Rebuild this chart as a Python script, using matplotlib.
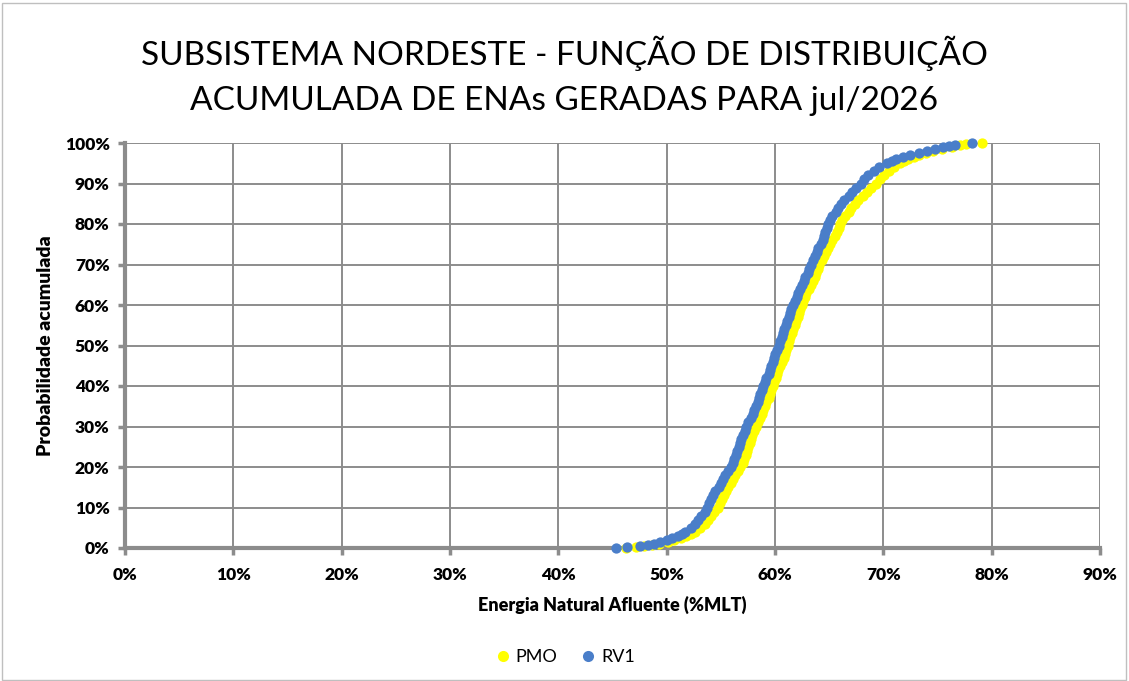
import matplotlib
matplotlib.use("Agg")
import matplotlib.pyplot as plt
from matplotlib.ticker import FuncFormatter
from matplotlib.patches import Rectangle
from matplotlib.lines import Line2D

title = "SUBSISTEMA NORDESTE - FUNÇÃO DE DISTRIBUIÇÃO\nACUMULADA DE ENAs GERADAS PARA jul/2026"
xlabel = "Energia Natural Afluente (%MLT)"
ylabel = "Probabilidade acumulada"
series_names = ["PMO", "RV1"]

# cumulative probability (%) and ENA (%MLT) for each series
pmo_p = [0, 0.25, 0.5, 0.75, 1.0, 1.5, 2.0, 2.5, 3.0, 3.5, 4.0, 5, 6, 7, 8, 9,
         10, 11, 12, 13, 14, 15, 16, 17, 18, 19, 20, 21, 22, 23, 24, 25, 26, 27, 28, 29,
         30, 31, 32, 33, 34, 35, 36, 37, 38, 39, 40, 41, 42, 43, 44, 45, 46, 47, 48, 49,
         50, 51, 52, 53, 54, 55, 56, 57, 58, 59, 60, 61, 62, 63, 64, 65, 66, 67, 68, 69,
         70, 71, 72, 73, 74, 75, 76, 77, 78, 79, 80, 81, 82, 83, 84, 85, 86, 87, 88, 89,
         90, 91, 92, 93, 94, 95, 95.5, 96, 96.5, 97, 97.5, 98, 98.5, 99, 99.4, 99.7, 100]
pmo_x = [46.2, 47.2, 47.9, 48.6, 49.3, 50.1, 50.7, 51.3, 51.8, 52.2, 52.6, 53.1, 53.5, 53.8, 54.1, 54.4,
         54.7, 54.9, 55.1, 55.3, 55.5, 55.7, 55.9, 56.1, 56.3, 56.6, 56.8, 57.0, 57.1, 57.3, 57.4, 57.5, 57.7, 57.8, 57.9, 58.1,
         58.2, 58.4, 58.6, 58.8, 58.9, 59.1, 59.2, 59.4, 59.5, 59.6, 59.8, 59.9, 60.1, 60.2, 60.3, 60.5, 60.6, 60.8, 60.9, 61.0,
         61.2, 61.3, 61.4, 61.6, 61.7, 61.8, 61.9, 62.1, 62.2, 62.3, 62.5, 62.6, 62.8, 62.9, 63.1, 63.3, 63.5, 63.7, 63.8, 64.0,
         64.1, 64.3, 64.5, 64.7, 64.9, 65.1, 65.3, 65.5, 65.7, 65.9, 66.0, 66.2, 66.5, 66.8, 67.0, 67.4, 67.7, 68.1, 68.5, 68.9,
         69.3, 69.7, 70.1, 70.5, 71.0, 71.5, 71.9, 72.3, 72.8, 73.3, 73.9, 74.6, 75.4, 76.3, 77.1, 77.6, 79.1]

rv1_p = [0, 0.25, 0.5, 0.75, 1.0, 1.5, 2.0, 2.5, 3.0, 3.5, 4.0, 5, 6, 7, 8, 9,
         10, 11, 12, 13, 14, 15, 16, 17, 18, 19, 20, 21, 22, 23, 24, 25, 26, 27, 28, 29,
         30, 31, 32, 33, 34, 35, 36, 37, 38, 39, 40, 41, 42, 43, 44, 45, 46, 47, 48, 49,
         50, 51, 52, 53, 54, 55, 56, 57, 58, 59, 60, 61, 62, 63, 64, 65, 66, 67, 68, 69,
         70, 71, 72, 73, 74, 75, 76, 77, 78, 79, 80, 81, 82, 83, 84, 85, 86, 87, 88, 89,
         90, 91, 92, 93, 94, 95, 95.5, 96, 96.5, 97, 97.5, 98, 98.5, 99, 99.3, 99.6, 100]
rv1_x = [45.3, 46.3, 47.5, 48.3, 48.8, 49.4, 50.0, 50.5, 51.0, 51.4, 51.7, 52.2, 52.6, 52.9, 53.2, 53.5,
         53.7, 53.9, 54.1, 54.3, 54.5, 54.8, 55.0, 55.2, 55.4, 55.7, 55.9, 56.1, 56.2, 56.4, 56.5, 56.7, 56.8, 56.9, 57.0, 57.2,
         57.3, 57.5, 57.8, 58.0, 58.1, 58.2, 58.4, 58.5, 58.6, 58.8, 58.9, 59.1, 59.2, 59.4, 59.5, 59.6, 59.8, 59.9, 60.0, 60.2,
         60.4, 60.5, 60.6, 60.7, 60.8, 61.0, 61.1, 61.3, 61.4, 61.5, 61.7, 61.8, 62.0, 62.1, 62.3, 62.5, 62.7, 62.8, 63.0, 63.1,
         63.3, 63.5, 63.7, 63.9, 64.0, 64.2, 64.4, 64.5, 64.6, 64.8, 64.9, 65.1, 65.3, 65.6, 65.8, 66.1, 66.4, 66.8, 67.1, 67.5,
         67.9, 68.2, 68.6, 69.1, 69.6, 70.3, 70.8, 71.2, 71.8, 72.5, 73.3, 74.0, 74.8, 75.5, 76.1, 76.6, 78.2]

x_ticks = [0, 10, 20, 30, 40, 50, 60, 70, 80, 90]
y_ticks = [0, 10, 20, 30, 40, 50, 60, 70, 80, 90, 100]

FONT = ["Lato", "DejaVu Sans"]
plt.rcParams['font.family'] = FONT

YELLOW = "#FFFF00"
BLUE = "#4A7EC9"
GRID = "#8C8C8C"

W, H = 1129, 681
fig = plt.figure(figsize=(W / 100, H / 100), dpi=100)
fig.patch.set_facecolor("white")
fig.add_artist(Rectangle((0.002, 0.002), 0.995, 0.994, transform=fig.transFigure,
                         fill=False, edgecolor="#BFBFBF", linewidth=1.0))

L, R, T, B = 125, 1100, 143, 548
ax = fig.add_axes([L / W, 1 - B / H, (R - L) / W, (B - T) / H])

ax.scatter(pmo_x, pmo_p, s=55, color=YELLOW, linewidths=0, zorder=3, clip_on=False)
ax.scatter(rv1_x, rv1_p, s=55, color=BLUE, linewidths=0, zorder=4, clip_on=False)

ax.set_xlim(0, 90)
ax.set_ylim(0, 100)
ax.set_xticks(x_ticks)
ax.set_yticks(y_ticks)
ax.xaxis.set_major_formatter(FuncFormatter(lambda v, p: f"{v:.0f}%"))
ax.yaxis.set_major_formatter(FuncFormatter(lambda v, p: f"{v:.0f}%"))
ax.grid(True, color=GRID, linewidth=1.4, zorder=0)
ax.set_axisbelow(True)
for s in ["top", "right"]:
    ax.spines[s].set_visible(False)
for s in ["left", "bottom"]:
    ax.spines[s].set_color(GRID)
    ax.spines[s].set_linewidth(3)
ax.tick_params(axis="both", direction="out", length=5, width=2.5, color=GRID,
               labelsize=12.5)
ax.tick_params(axis="x", pad=9)
ax.tick_params(axis="y", pad=6)
for lab in ax.get_xticklabels() + ax.get_yticklabels():
    lab.set_fontweight("heavy")

ax.set_xlabel(xlabel, fontsize=13, fontweight="heavy", labelpad=9)
ax.set_ylabel(ylabel, fontsize=14, fontweight="heavy", labelpad=8)

fig.text(0.5, 1 - 76 / H, title, ha="center", va="center", fontsize=24,
         linespacing=1.6)

handles = [Line2D([], [], marker="o", linestyle="none", markersize=8,
                  markerfacecolor=c, markeredgewidth=0) for c in (YELLOW, BLUE)]
fig.legend(handles, series_names, loc="center", bbox_to_anchor=(0.5, 1 - 657 / H),
           ncol=2, frameon=False, fontsize=13, handletextpad=0.2, columnspacing=1.2,
           handlelength=1.0)

fig.savefig("out.png", dpi=100, facecolor="white")
